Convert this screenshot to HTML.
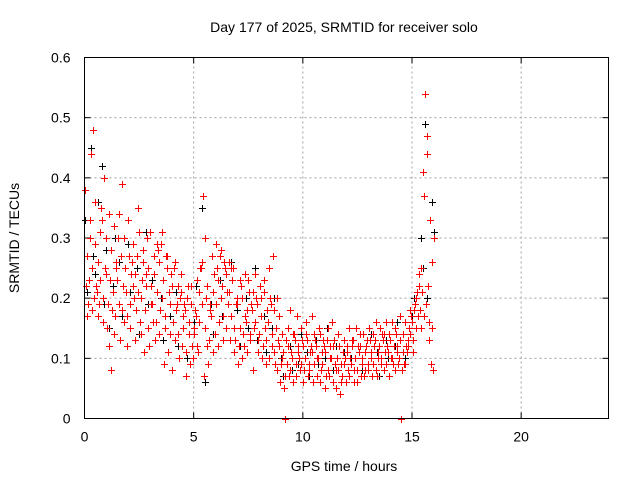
<!DOCTYPE html>
<html><head><meta charset="utf-8"><style>
html,body{margin:0;padding:0;background:#fff;}
svg text{font-family:"Liberation Sans",sans-serif;font-size:14px;fill:#000;}
</style></head><body>
<svg id="chart" width="640" height="480" viewBox="0 0 640 480" xmlns="http://www.w3.org/2000/svg">
<rect width="640" height="480" fill="#fff"/>
<text x="344" y="32" text-anchor="middle">Day 177 of 2025, SRMTID for receiver solo</text>
<text x="344" y="471" text-anchor="middle">GPS time / hours</text>
<text x="0" y="0" text-anchor="middle" transform="translate(19,238) rotate(-90)">SRMTID / TECUs</text>
<g id="grid"></g>
<g id="ticks"></g>
<g id="black" stroke="#000" stroke-width="1" fill="none"></g>
<g id="red" stroke="#f00" stroke-width="1" fill="none"></g>
<rect x="84.5" y="57.5" width="524" height="361" fill="none" stroke="#000" stroke-width="1"/>
</svg>
<script>
const xTicks=[0,5,10,15,20];
const yTicks=[0,0.1,0.2,0.3,0.4,0.5,0.6];
const yTickLabels=["0","0.1","0.2","0.3","0.4","0.5","0.6"];
const redT=[0.0,0.1,0.2,0.3,0.4,0.5,0.6,0.7,0.8,0.9,1.0,1.1,1.2,1.3,1.4,1.5,1.6,1.7,1.8,1.9,2.0,2.1,2.2,2.3,2.4,2.5,2.6,2.7,2.8,2.9,3.0,3.1,3.2,3.3,3.4,3.5,3.6,3.7,3.8,3.9,4.0,4.1,4.2,4.3,4.4,4.5,4.6,4.7,4.8,4.9,5.0,5.1,5.2,5.3,5.4,5.5,5.6,5.7,5.8,5.9,6.0,6.1,6.2,6.3,6.4,6.5,6.6,6.7,6.8,6.9,7.0,7.1,7.2,7.3,7.4,7.5,7.6,7.7,7.8,7.9,8.0,8.1,8.2,8.3,8.4,8.5,8.6,8.7,8.8,8.9,9.0,9.1,9.2,9.3,9.4,9.5,9.6,9.7,9.8,9.9,10.0,10.1,10.2,10.3,10.4,10.5,10.6,10.7,10.8,10.9,11.0,11.1,11.2,11.3,11.4,11.5,11.6,11.7,11.8,11.9,12.0,12.1,12.2,12.3,12.4,12.5,12.6,12.7,12.8,12.9,13.0,13.1,13.2,13.3,13.4,13.5,13.6,13.7,13.8,13.9,14.0,14.1,14.2,14.3,14.4,14.5,14.6,14.7,14.8,14.9,15.0,15.1,15.2,15.3,15.4,15.5,15.6,15.7,15.8,15.9];
const redV=[[.38,.22,.17],[.27,.19,.33],[.23,.30,.18],[.44,.25,.20],[.48,.36,.22],[.29,.21,.17],[.26,.19,.31],[.23,.35,.16],[.33,.20,.25],[.40,.24,.15],[.30,.19,.34],[.12,.23,.28],[.08,.18,.32],[.21,.14,.26],[.17,.25,.30],[.23,.19,.13],[.34,.27,.18],[.39,.22,.16],[.30,.25,.12],[.21,.17,.27],[.33,.19,.24],[.15,.26,.22],[.29,.20,.13],[.24,.18,.35],[.27,.21,.16],[.31,.14,.23],[.20,.26,.11],[.28,.18,.24],[.22,.30,.15],[.25,.12,.19],[.31,.22,.16],[.19,.27,.13],[.24,.16,.29],[.21,.28,.14],[.26,.18,.31],[.29,.20,.09],[.23,.15,.27],[.17,.25,.11],[.27,.21,.14],[.19,.24,.08],[.22,.16,.26],[.25,.13,.19],[.18,.22,.10],[.14,.20,.24],[.21,.12,.17],[.15,.19,.07],[.18,.11,.22],[.20,.14,.09],[.16,.22,.12],[.19,.10,.15],[.14,.18,.23],[.17,.12,.21],[.11,.16,.25],[.25,.19,.37],[.26,.07,.30],[.15,.20,.12],[.22,.09,.18],[.13,.19,.27],[.17,.11,.24],[.21,.14,.29],[.19,.25,.12],[.23,.16,.28],[.27,.20,.13],[.22,.17,.25],[.26,.15,.21],[.24,.19,.26],[.21,.13,.25],[.17,.23,.11],[.25,.15,.19],[.13,.20,.09],[.19,.12,.23],[.15,.22,.10],[.20,.14,.17],[.12,.24,.18],[.16,.11,.21],[.23,.14,.19],[.13,.18,.08],[.21,.15,.24],[.16,.20,.11],[.19,.13,.22],[.14,.20,.10],[.17,.12,.23],[.21,.15,.09],[.13,.18,.25],[.16,.10,.19],[.20,.12,.27],[.14,.18,.09],[.11,.15,.20],[.08,.13,.17],[.12,.06,.10],[.09,.14,.05],[.11,.07,.13],[.00,.09,.15],[.12,.07,.18],[.08,.11,.14],[.10,.06,.13],[.14,.09,.17],[.07,.12,.10],[.11,.08,.15],[.09,.13,.06],[.12,.08,.16],[.10,.14,.07],[.13,.09,.11],[.08,.12,.17],[.11,.06,.14],[.09,.13,.10],[.12,.07,.15],[.10,.14,.08],[.06,.11,.13],[.09,.12,.05],[.11,.07,.15],[.13,.08,.10],[.07,.12,.16],[.10,.06,.13],[.12,.09,.08],[.05,.10,.14],[.08,.12,.06],[.04,.09,.11],[.07,.13,.10],[.09,.06,.12],[.11,.08,.15],[.07,.10,.13],[.09,.12,.06],[.13,.08,.15],[.10,.06,.12],[.08,.11,.14],[.12,.07,.09],[.10,.14,.08],[.07,.11,.13],[.12,.09,.15],[.08,.13,.10],[.11,.07,.14],[.09,.12,.16],[.13,.08,.11],[.07,.10,.15],[.12,.09,.14],[.10,.13,.08],[.14,.11,.16],[.09,.12,.07],[.11,.14,.10],[.13,.16,.09],[.10,.12,.15],[.08,.14,.11],[.12,.09,.17],[.10,.13,.08],[.00,.11,.09],[.14,.09,.12],[.16,.11,.13],[.12,.15,.18],[.14,.17,.11],[.16,.13,.19],[.18,.15,.21],[.20,.17,.24],[.22,.18,.15],[.25,.21,.17],[.41,.37,.19],[.54,.44,.22],[.47,.16,.33],[.13,.09,.15],[.26,.08,.30]];
const blackT=[0.0,0.3,0.5,0.8,1.0,1.3,1.6,2.0,2.4,2.8,3.1,3.5,3.8,4.2,4.6,5.0,5.4,5.8,6.2,6.6,7.0,7.4,7.8,8.2,8.6,9.0,9.4,9.8,10.2,10.6,11.0,11.4,11.8,12.2,12.6,13.0,13.4,13.8,14.2,14.6,15.0,15.4,15.6,15.9];
const blackV=[[.33,.21],[.45,.27],[.24,.36],[.42,.19],[.28,.15],[.22,.30],[.26,.17],[.29,.21],[.25,.14],[.31,.19],[.23,.27],[.20,.13],[.25,.17],[.21,.12],[.18,.10],[.16,.22],[.35,.06],[.19,.14],[.23,.17],[.21,.26],[.18,.12],[.20,.15],[.25,.13],[.17,.11],[.15,.20],[.10,.07],[.12,.08],[.09,.14],[.11,.07],[.13,.09],[.10,.15],[.08,.12],[.07,.11],[.10,.13],[.12,.08],[.09,.14],[.11,.07],[.13,.10],[.12,.16],[.14,.10],[.17,.20],[.30,.25],[.49,.20],[.36,.31]];
const X0=84.5,X1=608.5,Y0=418.5,Y1=57.5,XMAX=24,YMAX=0.6;
const sx=v=>X0+(X1-X0)*v/XMAX, sy=v=>Y0-(Y0-Y1)*v/YMAX;
const NS="http://www.w3.org/2000/svg";
const grid=document.getElementById('grid'),ticks=document.getElementById('ticks');
function mk(tag,attrs,parent){const e=document.createElementNS(NS,tag);for(const k in attrs)e.setAttribute(k,attrs[k]);parent.appendChild(e);return e;}
xTicks.forEach((t,i)=>{
 const x=sx(t);
 if(i>0){const g=mk('line',{x1:x,y1:Y0,x2:x,y2:Y1,stroke:'#a0a0a0','stroke-dasharray':'2,3'},grid);
 
 }
 mk('line',{x1:x,y1:Y0,x2:x,y2:Y0-6,stroke:'#000'},ticks);
 mk('line',{x1:x,y1:Y1,x2:x,y2:Y1+6,stroke:'#000'},ticks);
 const tx=mk('text',{x:x,y:Y0+23,'text-anchor':'middle'},ticks);tx.textContent=String(t);
 
 
});
yTicks.forEach((t,i)=>{
 const y=sy(t);
 if(i>0&&i<yTicks.length-1){const g=mk('line',{x1:X0,y1:y,x2:X1,y2:y,stroke:'#a0a0a0','stroke-dasharray':'2,3'},grid);
 
 }
 mk('line',{x1:X0,y1:y,x2:X0+6,y2:y,stroke:'#000'},ticks);
 mk('line',{x1:X1,y1:y,x2:X1-6,y2:y,stroke:'#000'},ticks);
 const tx=mk('text',{x:X0-14,y:y+5,'text-anchor':'end'},ticks);tx.textContent=yTickLabels[i];
 
 
});
function plot(T,V,id,step){
 const g=document.getElementById(id);let d='';
 T.forEach((t,i)=>{V[i].forEach((v,j)=>{
  const x=Math.round(sx(t+j*step))+0.5,y=Math.round(sy(v))+0.5;
  d+=`M${x-3.5},${y}h7M${x},${y-3.5}v7`;
 });});
 const p=mk('path',{d:d},g);
 
 
}
plot(blackT,blackV,'black',0.1);
plot(redT,redV,'red',0.065);
</script>
</body></html>
